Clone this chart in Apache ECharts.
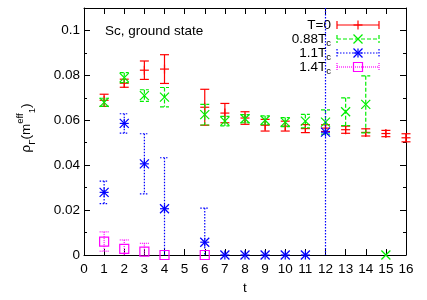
<!DOCTYPE html>
<html><head><meta charset="utf-8">
<script src="https://cdn.jsdelivr.net/npm/echarts@6/dist/echarts.min.js"></script>
<style>html,body{margin:0;padding:0;background:#fff}#c{width:427px;height:300px}</style>
</head><body><div id="c"></div>
<script>
// T=0
const redT = [1,2,3,4,6,7,8,9,10,11,12,13,14,15,16];
const redY = [0.0689,0.0765,0.0823,0.0828,0.0658,0.0632,0.0610,0.0578,0.0574,0.0563,0.0565,0.0558,0.0546,0.0541,0.0522];
const redE = [0.0027,0.0018,0.0041,0.0064,0.0080,0.0043,0.0028,0.0026,0.0022,0.0018,0.0015,0.0016,0.0016,0.0014,0.0018];
// 0.88Tc
const greenT = [1,2,3,4,6,7,8,9,10,11,12,13,14,15];
const greenY = [0.0680,0.0790,0.0710,0.0703,0.0625,0.0596,0.0607,0.0600,0.0592,0.0596,0.0592,0.0638,0.0671,0];
const greenE = [0.0018,0.0022,0.0026,0.0043,0.0046,0.0021,0.0018,0.0020,0.0020,0.0030,0.0054,0.0062,0.0127,0];
// 1.1Tc
const blueT = [1,2,3,4,6,7,8,9,10,11,12];
const blueY = [0.0279,0.0586,0.0406,0.0206,0.0057,0,0,0,0,0,0.0547];
const blueE = [0.0050,0.0043,0.0134,0.0227,0.0152,0,0,0,0,0,0.5];
// 1.4Tc
const magT = [1,2,3,4,6];
const magY = [0.0060,0.0027,0.0015,0,0];
const magE = [0.0043,0.0040,0.0037,0,0];

const xTicks = {min:0, max:16, interval:1};
const yTicks = {min:0, max:0.11, interval:0.02};
const FONT = 'Liberation Sans, Arial, sans-serif';

const seriesDefs = [
  {name:'T=0', t:redT, y:redY, e:redE, color:'#ff0000', dash:null, marker:'plus'},
  {name:'0.88T', t:greenT, y:greenY, e:greenE, color:'#00ee00', dash:[4,2], marker:'cross'},
  {name:'1.1T', t:blueT, y:blueY, e:blueE, color:'#0000ff', dash:[1.5,1.5], marker:'star'},
  {name:'1.4T', t:magT, y:magY, e:magE, color:'#ff00ff', dash:[1,1], marker:'square'}
];

const H = 4.5, CAP = 4.5, LW = 1.2;

function markerShapes(kind, cx, cy, color){
  const st = {stroke:color, lineWidth:LW, fill:null};
  const L = (x1,y1,x2,y2)=>({type:'line', shape:{x1,y1,x2,y2}, style:st});
  const out = [];
  if (kind==='plus' || kind==='star'){
    out.push(L(cx-H,cy,cx+H,cy)); out.push(L(cx,cy-H,cx,cy+H));
  }
  if (kind==='cross' || kind==='star'){
    out.push(L(cx-H,cy-H,cx+H,cy+H)); out.push(L(cx-H,cy+H,cx+H,cy-H));
  }
  if (kind==='square'){
    out.push({type:'rect', shape:{x:cx-H, y:cy-H, width:2*H, height:2*H}, style:st});
  }
  return out;
}

function makeSeries(def){
  return {
    type:'custom', name:def.name, animation:false,
    data: def.t.map((t,i)=>[t, def.y[i], def.e[i]]),
    encode:{x:0, y:1},
    renderItem:function(params, api){
      const x = api.value(0), y = api.value(1), e = api.value(2);
      const c = api.coord([x,y]);
      const cs = params.coordSys;
      const children = [];
      const est = {stroke:def.color, lineWidth:LW, lineDash:def.dash, fill:null};
      if (e > 0){
        const top = api.coord([x, y+e])[1];
        const bot = api.coord([x, y-e])[1];
        const tC = Math.max(top, cs.y), bC = Math.min(bot, cs.y+cs.height);
        children.push({type:'line', shape:{x1:c[0], y1:tC, x2:c[0], y2:bC}, style:est});
        if (top >= cs.y) children.push({type:'line', shape:{x1:c[0]-CAP, y1:top, x2:c[0]+CAP, y2:top}, style:est});
        if (bot <= cs.y+cs.height) children.push({type:'line', shape:{x1:c[0]-CAP, y1:bot, x2:c[0]+CAP, y2:bot}, style:est});
      }
      markerShapes(def.marker, c[0], c[1], def.color).forEach(s=>children.push(s));
      return {type:'group', children};
    }
  };
}

// legend graphics
const legendRowsY = [25, 39, 53, 67];
const legendGraphics = [];
seriesDefs.forEach((def,i)=>{
  const y = legendRowsY[i];
  const x1 = 337, x2 = 379, xm = 358;
  const text = i===0 ? '{a|T=0}' : '{a|' + def.name + '}{s|c}';
  legendGraphics.push({type:'text', x:331, y:y, style:{text:text, align:'right', verticalAlign:'middle', fill:'#000',
    rich:{a:{fontFamily:FONT, fontSize:13.5, lineHeight:18, fill:'#000'}, s:{fontFamily:FONT, fontSize:9.5, lineHeight:9, verticalAlign:'bottom', fill:'#000'}}}});
  const est = {stroke:def.color, lineWidth:LW, lineDash:def.dash, fill:null};
  legendGraphics.push({type:'line', shape:{x1:x1, y1:y, x2:x2, y2:y}, style:est});
  legendGraphics.push({type:'line', shape:{x1:x1, y1:y-4, x2:x1, y2:y+4}, style:est});
  legendGraphics.push({type:'line', shape:{x1:x2, y1:y-4, x2:x2, y2:y+4}, style:est});
  markerShapes(def.marker, xm, y, def.color).forEach(s=>legendGraphics.push(s));
});

const chart = echarts.init(document.getElementById('c'), null, {renderer:'canvas'});
const axisCommon = {
  axisLine:{show:true, onZero:false, lineStyle:{color:'#000', width:1}},
  axisTick:{show:true, inside:true, length:6, lineStyle:{color:'#000'}},
  splitLine:{show:false}
};
chart.setOption({
  animation:false,
  backgroundColor:'#fff',
  grid:{left:84, right:21, top:8, bottom:45},
  xAxis:[
    Object.assign({type:'value', min:xTicks.min, max:xTicks.max, interval:xTicks.interval, position:'bottom',
      axisLabel:{color:'#000', fontSize:13.5, fontFamily:FONT, margin:7},
      name:'t', nameLocation:'middle', nameGap:26, nameTextStyle:{color:'#000', fontSize:13.5, fontFamily:FONT}}, axisCommon),
    Object.assign({type:'value', min:xTicks.min, max:xTicks.max, interval:xTicks.interval, position:'top',
      axisLabel:{show:false}}, axisCommon)
  ],
  yAxis:[
    Object.assign({type:'value', min:yTicks.min, max:yTicks.max, interval:yTicks.interval, position:'left',
      minorTick:{show:true, splitNumber:2, length:3, lineStyle:{color:'#000'}}, minorSplitLine:{show:false},
      axisLabel:{color:'#000', fontSize:13.5, fontFamily:FONT, margin:4, showMaxLabel:false}}, axisCommon),
    Object.assign({type:'value', min:yTicks.min, max:yTicks.max, interval:yTicks.interval, position:'right',
      minorTick:{show:true, splitNumber:2, length:3, lineStyle:{color:'#000'}}, minorSplitLine:{show:false},
      axisLabel:{show:false}}, axisCommon)
  ],
  graphic:[
    {type:'text', x:105, y:31, style:{text:'Sc, ground state', fontFamily:FONT, fontSize:13.5, fill:'#000', align:'left', verticalAlign:'middle'}},
    {type:'text', x:26, y:128, rotation:Math.PI/2, style:{
      text:'{a|ρ}{sub|Γ}{a|(m}{sup|eff}{sub|1}{a|)}', align:'center', verticalAlign:'middle',
      rich:{
        a:{fontFamily:FONT, fontSize:13.5, lineHeight:22, fill:'#000'},
        sub:{fontFamily:FONT, fontSize:9.5, lineHeight:11, verticalAlign:'bottom', fill:'#000'},
        sup:{fontFamily:FONT, fontSize:9.5, lineHeight:11, verticalAlign:'top', fill:'#000'}
      }}}
  ].concat(legendGraphics),
  series: seriesDefs.map(makeSeries)
});
</script></body></html>
